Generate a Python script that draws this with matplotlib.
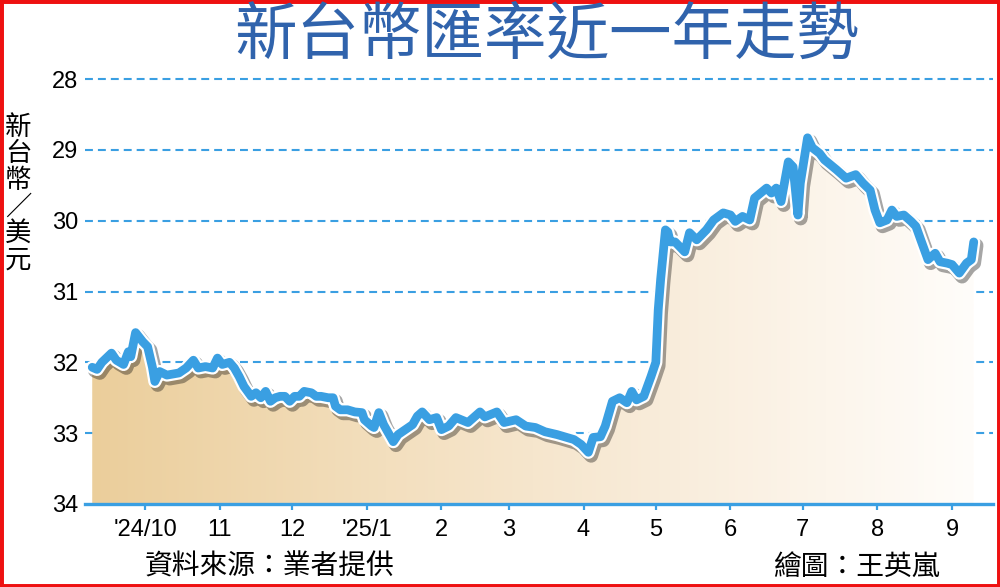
import numpy as np
import pandas as pd
import matplotlib
matplotlib.use('Agg')
import matplotlib.pyplot as plt
import matplotlib.dates as mdates
import matplotlib.patheffects as pe
from matplotlib.patches import Rectangle

plt.rcParams['font.family'] = ['Noto Sans CJK TC', 'DejaVu Sans']

# dados (NT$ por US$)
datas = [
    '2024-09-09', '2024-09-11', '2024-09-13', '2024-09-17', '2024-09-19', '2024-09-22',
    '2024-09-24', '2024-09-25', '2024-09-27', '2024-09-30', '2024-10-02', '2024-10-04',
    '2024-10-05', '2024-10-07', '2024-10-10', '2024-10-15', '2024-10-18', '2024-10-21',
    '2024-10-23', '2024-10-26', '2024-10-29', '2024-10-31', '2024-11-02', '2024-11-05',
    '2024-11-07', '2024-11-09', '2024-11-11', '2024-11-14', '2024-11-16', '2024-11-18',
    '2024-11-20', '2024-11-22', '2024-11-24', '2024-11-26', '2024-11-28', '2024-11-30',
    '2024-12-02', '2024-12-04', '2024-12-06', '2024-12-09', '2024-12-11', '2024-12-13',
    '2024-12-16', '2024-12-18', '2024-12-19', '2024-12-21', '2024-12-24', '2024-12-27',
    '2024-12-30', '2024-12-31', '2025-01-03', '2025-01-04', '2025-01-06', '2025-01-08',
    '2025-01-10', '2025-01-12', '2025-01-14', '2025-01-17', '2025-01-20', '2025-01-22',
    '2025-01-24', '2025-01-27', '2025-01-30', '2025-02-01', '2025-02-04', '2025-02-07',
    '2025-02-12', '2025-02-17', '2025-02-19', '2025-02-24', '2025-02-27', '2025-03-04',
    '2025-03-08', '2025-03-12', '2025-03-16', '2025-03-21', '2025-03-25', '2025-03-28',
    '2025-03-31', '2025-04-03', '2025-04-05', '2025-04-08', '2025-04-10', '2025-04-13',
    '2025-04-16', '2025-04-19', '2025-04-21', '2025-04-23', '2025-04-26', '2025-04-29',
    '2025-05-01', '2025-05-02', '2025-05-03', '2025-05-05', '2025-05-06', '2025-05-07',
    '2025-05-09', '2025-05-13', '2025-05-15', '2025-05-18', '2025-05-22', '2025-05-25',
    '2025-05-29', '2025-06-01', '2025-06-03', '2025-06-06', '2025-06-09', '2025-06-11',
    '2025-06-16', '2025-06-18', '2025-06-20', '2025-06-22', '2025-06-25', '2025-06-27',
    '2025-06-29', '2025-06-30', '2025-07-03', '2025-07-05', '2025-07-08', '2025-07-10',
    '2025-07-15', '2025-07-19', '2025-07-23', '2025-07-26', '2025-07-29', '2025-07-31',
    '2025-08-02', '2025-08-05', '2025-08-07', '2025-08-09', '2025-08-12', '2025-08-15',
    '2025-08-17', '2025-08-19', '2025-08-22', '2025-08-25', '2025-08-27', '2025-08-30',
    '2025-09-01', '2025-09-04', '2025-09-07', '2025-09-09', '2025-09-10',
]
cambio = [
    32.07, 32.10, 32.00, 31.87, 31.97, 32.03,
    31.85, 31.92, 31.58, 31.71, 31.78, 32.07,
    32.27, 32.13, 32.18, 32.15, 32.08, 31.97,
    32.08, 32.06, 32.08, 31.94, 32.03, 32.00,
    32.08, 32.20, 32.34, 32.48, 32.43, 32.50,
    32.41, 32.55, 32.50, 32.48, 32.48, 32.55,
    32.48, 32.48, 32.41, 32.43, 32.48, 32.48,
    32.50, 32.50, 32.62, 32.67, 32.67, 32.70,
    32.71, 32.81, 32.90, 32.92, 32.71, 32.88,
    33.00, 33.12, 33.02, 32.95, 32.88, 32.76,
    32.70, 32.81, 32.78, 32.95, 32.90, 32.78,
    32.85, 32.70, 32.77, 32.70, 32.85, 32.81,
    32.90, 32.92, 32.98, 33.02, 33.06, 33.09,
    33.16, 33.27, 33.06, 33.05, 32.90, 32.55,
    32.50, 32.57, 32.41, 32.53, 32.48, 32.20,
    32.00, 31.26, 30.83, 30.13, 30.16, 30.30,
    30.30, 30.44, 30.17, 30.27, 30.13, 29.99,
    29.89, 29.92, 30.01, 29.94, 29.99, 29.68,
    29.54, 29.61, 29.54, 29.73, 29.17, 29.24,
    29.92, 29.47, 28.83, 28.97, 29.05, 29.14,
    29.28, 29.40, 29.35, 29.47, 29.57, 29.85,
    30.03, 29.99, 29.85, 29.94, 29.92, 30.01,
    30.08, 30.27, 30.55, 30.46, 30.58, 30.60,
    30.62, 30.74, 30.60, 30.55, 30.30,
]

meses = ['2024-10-01', '2024-11-01', '2024-12-01', '2025-01-01', '2025-02-01', '2025-03-01',
         '2025-04-01', '2025-05-01', '2025-06-01', '2025-07-01', '2025-08-01', '2025-09-01']
rotulos_meses = ["'24/10", '11', '12', "'25/1", '2', '3', '4', '5', '6', '7', '8', '9']
niveis = [28, 29, 30, 31, 32, 33, 34]

azul = '#3A9FE2'

x = pd.to_datetime(datas)
y = np.array(cambio)

fig = plt.figure(figsize=(10, 5.87), dpi=100)
ax = fig.add_axes([0.085, 0.1414, 0.908, 0.724])

# grade tracejada atrás do preenchimento
for nv in niveis[:-1]:
    ax.axhline(nv, color=azul, lw=1.5, ls=(0, (3.8, 2.4)), zorder=1, clip_on=False)

# preenchimento com gradiente (bege -> branco)
area = ax.fill_between(x, y, 34, color='none', lw=0, zorder=2)
xn = mdates.date2num(x)
paradas = np.array([[235, 206, 155], [243, 223, 190], [249, 237, 220], [255, 253, 250]]) / 255
pos = np.linspace(0, 1, len(paradas))
t = np.linspace(0, 1, 400)
grad = np.stack([np.interp(t, pos, paradas[:, c]) for c in range(3)], axis=-1)[None, :, :]
img = ax.imshow(grad, extent=[xn[0], xn[-1], 34, 28], aspect='auto', zorder=2,
                interpolation='bilinear')
img.set_clip_path(area.get_paths()[0], transform=ax.transData)

# linha com contorno branco e sombra
ax.plot(x, y, color=azul, lw=6.3, zorder=4, solid_joinstyle='round', solid_capstyle='round',
        path_effects=[pe.SimpleLineShadow(offset=(2, -2.5), shadow_color='black', alpha=0.35,
                                          linewidth=10),
                      pe.Stroke(linewidth=9.5, foreground='white'),
                      pe.Normal()])

ax.set_ylim(34, 28)
ax.set_xlim(pd.Timestamp('2024-09-06'), pd.Timestamp('2025-09-18'))

ax.set_yticks(niveis)
ax.set_yticklabels([str(n) for n in niveis], family=['Liberation Sans', 'DejaVu Sans'], fontsize=17)
ax.tick_params(axis='y', length=0, pad=5)

ax.set_xticks(pd.to_datetime(meses))
ax.set_xticklabels(rotulos_meses, family=['Liberation Sans', 'DejaVu Sans'], fontsize=17)
ax.tick_params(axis='x', direction='out', length=4, width=1.6, color=azul, pad=7)

for lado in ['top', 'right', 'left']:
    ax.spines[lado].set_visible(False)
ax.spines['bottom'].set_color(azul)
ax.spines['bottom'].set_linewidth(2.4)
ax.spines['bottom'].set_zorder(5)
ax.set_facecolor('none')

# textos
fig.text(0.547, 0.94, '新台幣匯率近一年走勢', ha='center', va='center', fontsize=45,
         color='#3063AC', weight='medium')
fig.text(0.018, 0.67, '\n'.join('新台幣／美元'), ha='center', va='center', fontsize=19,
         linespacing=0.98, color='black')
fig.text(0.145, 0.034, '資料來源：業者提供', ha='left', va='center', fontsize=20, color='black')
fig.text(0.773, 0.034, '繪圖：王英嵐', ha='left', va='center', fontsize=20, color='black')

# borda vermelha
fig.patches.append(Rectangle((0, 0), 1, 1, transform=fig.transFigure, fill=False,
                             edgecolor='#EE1111', lw=5))

fig.savefig('out.png', dpi=100)
